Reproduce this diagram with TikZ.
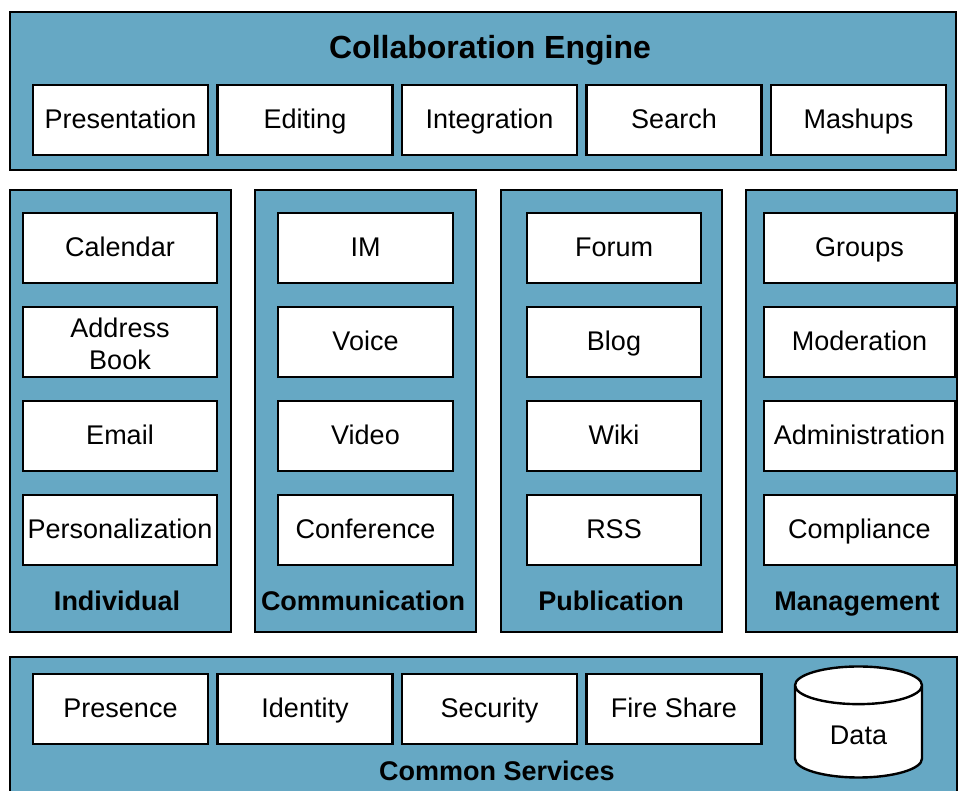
\documentclass[tikz,border=0pt]{standalone}
\usepackage{fontspec}
\setmainfont{Liberation Sans}
\usepackage{tikz}
\usetikzlibrary{shapes.geometric}
\definecolor{panelblue}{RGB}{102,168,196}

\tikzset{
  panel/.style={draw, rectangle, fill=panelblue, line width=1.2pt, inner sep=0pt},
  item/.style={draw, rectangle, fill=white, line width=1.2pt, minimum height=35pt, inner sep=0pt,
    align=center, text height=11.4pt, text depth=2.9pt, font=\fontsize{13.5}{16}\selectfont},
  headtext/.style={inner sep=0pt, text height=9.7pt, text depth=0pt, font=\bfseries\fontsize{13.5}{16}\selectfont}
}

\begin{document}
\begin{tikzpicture}[x=0.5pt, y=-0.5pt]
\useasboundingbox (0,0) rectangle (958,791);

% Collaboration Engine
\node (engine) [panel, minimum width=473pt, minimum height=79pt] at (483,91) {};
\node (enginetitle) [headtext, text height=11.5pt, font=\bfseries\fontsize{16}{19}\selectfont] at (490,47) {Collaboration Engine};
\node (top1) [item, minimum width=87.5pt] at (120.5,120) {Presentation};
\node (top2) [item, minimum width=87.5pt, right of=top1, node distance=92.25pt] {Editing};
\node (top3) [item, minimum width=87.5pt, right of=top2, node distance=92.25pt] {Integration};
\node (top4) [item, minimum width=87.5pt, right of=top3, node distance=92.25pt] {Search};
\node (top5) [item, minimum width=87.5pt, right of=top4, node distance=92.25pt] {Mashups};

% Columns
\node (col1) [panel, minimum width=110.5pt, minimum height=221pt] at (120.5,411) {};
\node (col2) [panel, minimum width=110.5pt, minimum height=221pt] at (365.5,411) {};
\node (col3) [panel, minimum width=110.5pt, minimum height=221pt] at (611.5,411) {};
\node (col4) [panel, minimum width=105.5pt, minimum height=221pt] at (851.5,411) {};

% Individual
\node (ind1) [item, minimum width=97pt] at (120,248) {Calendar};
\node (ind2) [item, minimum width=97pt, below of=ind1, node distance=47pt, text height=, text depth=] {\vphantom{A}\\[-14pt]Address\\Book};
\node (ind3) [item, minimum width=97pt, below of=ind2, node distance=47pt] {Email};
\node (ind4) [item, minimum width=97pt, below of=ind3, node distance=47pt] {Personalization};
\node (indlabel) [headtext] at (117,601) {Individual};

% Communication
\node (com1) [item, minimum width=87.5pt] at (365.5,248) {IM};
\node (com2) [item, minimum width=87.5pt, below of=com1, node distance=47pt] {Voice};
\node (com3) [item, minimum width=87.5pt, below of=com2, node distance=47pt] {Video};
\node (com4) [item, minimum width=87.5pt, below of=com3, node distance=47pt] {Conference};
\node (comlabel) [headtext] at (363,601) {Communication};

% Publication
\node (pub1) [item, minimum width=87pt] at (614,248) {Forum};
\node (pub2) [item, minimum width=87pt, below of=pub1, node distance=47pt] {Blog};
\node (pub3) [item, minimum width=87pt, below of=pub2, node distance=47pt] {Wiki};
\node (pub4) [item, minimum width=87pt, below of=pub3, node distance=47pt] {RSS};
\node (publabel) [headtext] at (611,601) {Publication};

% Management
\node (man1) [item, minimum width=95.5pt] at (859.5,248) {Groups};
\node (man2) [item, minimum width=95.5pt, below of=man1, node distance=47pt] {Moderation};
\node (man3) [item, minimum width=95.5pt, below of=man2, node distance=47pt] {Administration};
\node (man4) [item, minimum width=95.5pt, below of=man3, node distance=47pt] {Compliance};
\node (manlabel) [headtext] at (857,601) {Management};

% Common Services
\node (common) [panel, minimum width=473.5pt, minimum height=71.5pt] at (483.5,728.5) {};
\node (bot1) [item, minimum width=87.5pt] at (120.5,709) {Presence};
\node (bot2) [item, minimum width=87.5pt, right of=bot1, node distance=92.25pt] {Identity};
\node (bot3) [item, minimum width=87.5pt, right of=bot2, node distance=92.25pt] {Security};
\node (bot4) [item, minimum width=87.5pt, right of=bot3, node distance=92.25pt] {Fire Share};
\node (data) [draw, cylinder, shape border rotate=90, aspect=0.66, fill=white, line width=1.2pt,
  minimum width=63.5pt, minimum height=55.5pt, inner sep=0pt, font=\fontsize{13.5}{16}\selectfont] at (858.5,732) {\phantom{Data}};
\node (datatext) [inner sep=0pt, font=\fontsize{13.5}{16}\selectfont] at (858.5,735) {Data};
\node (commonlabel) [headtext] at (497,771) {Common Services};
\end{tikzpicture}
\end{document}
